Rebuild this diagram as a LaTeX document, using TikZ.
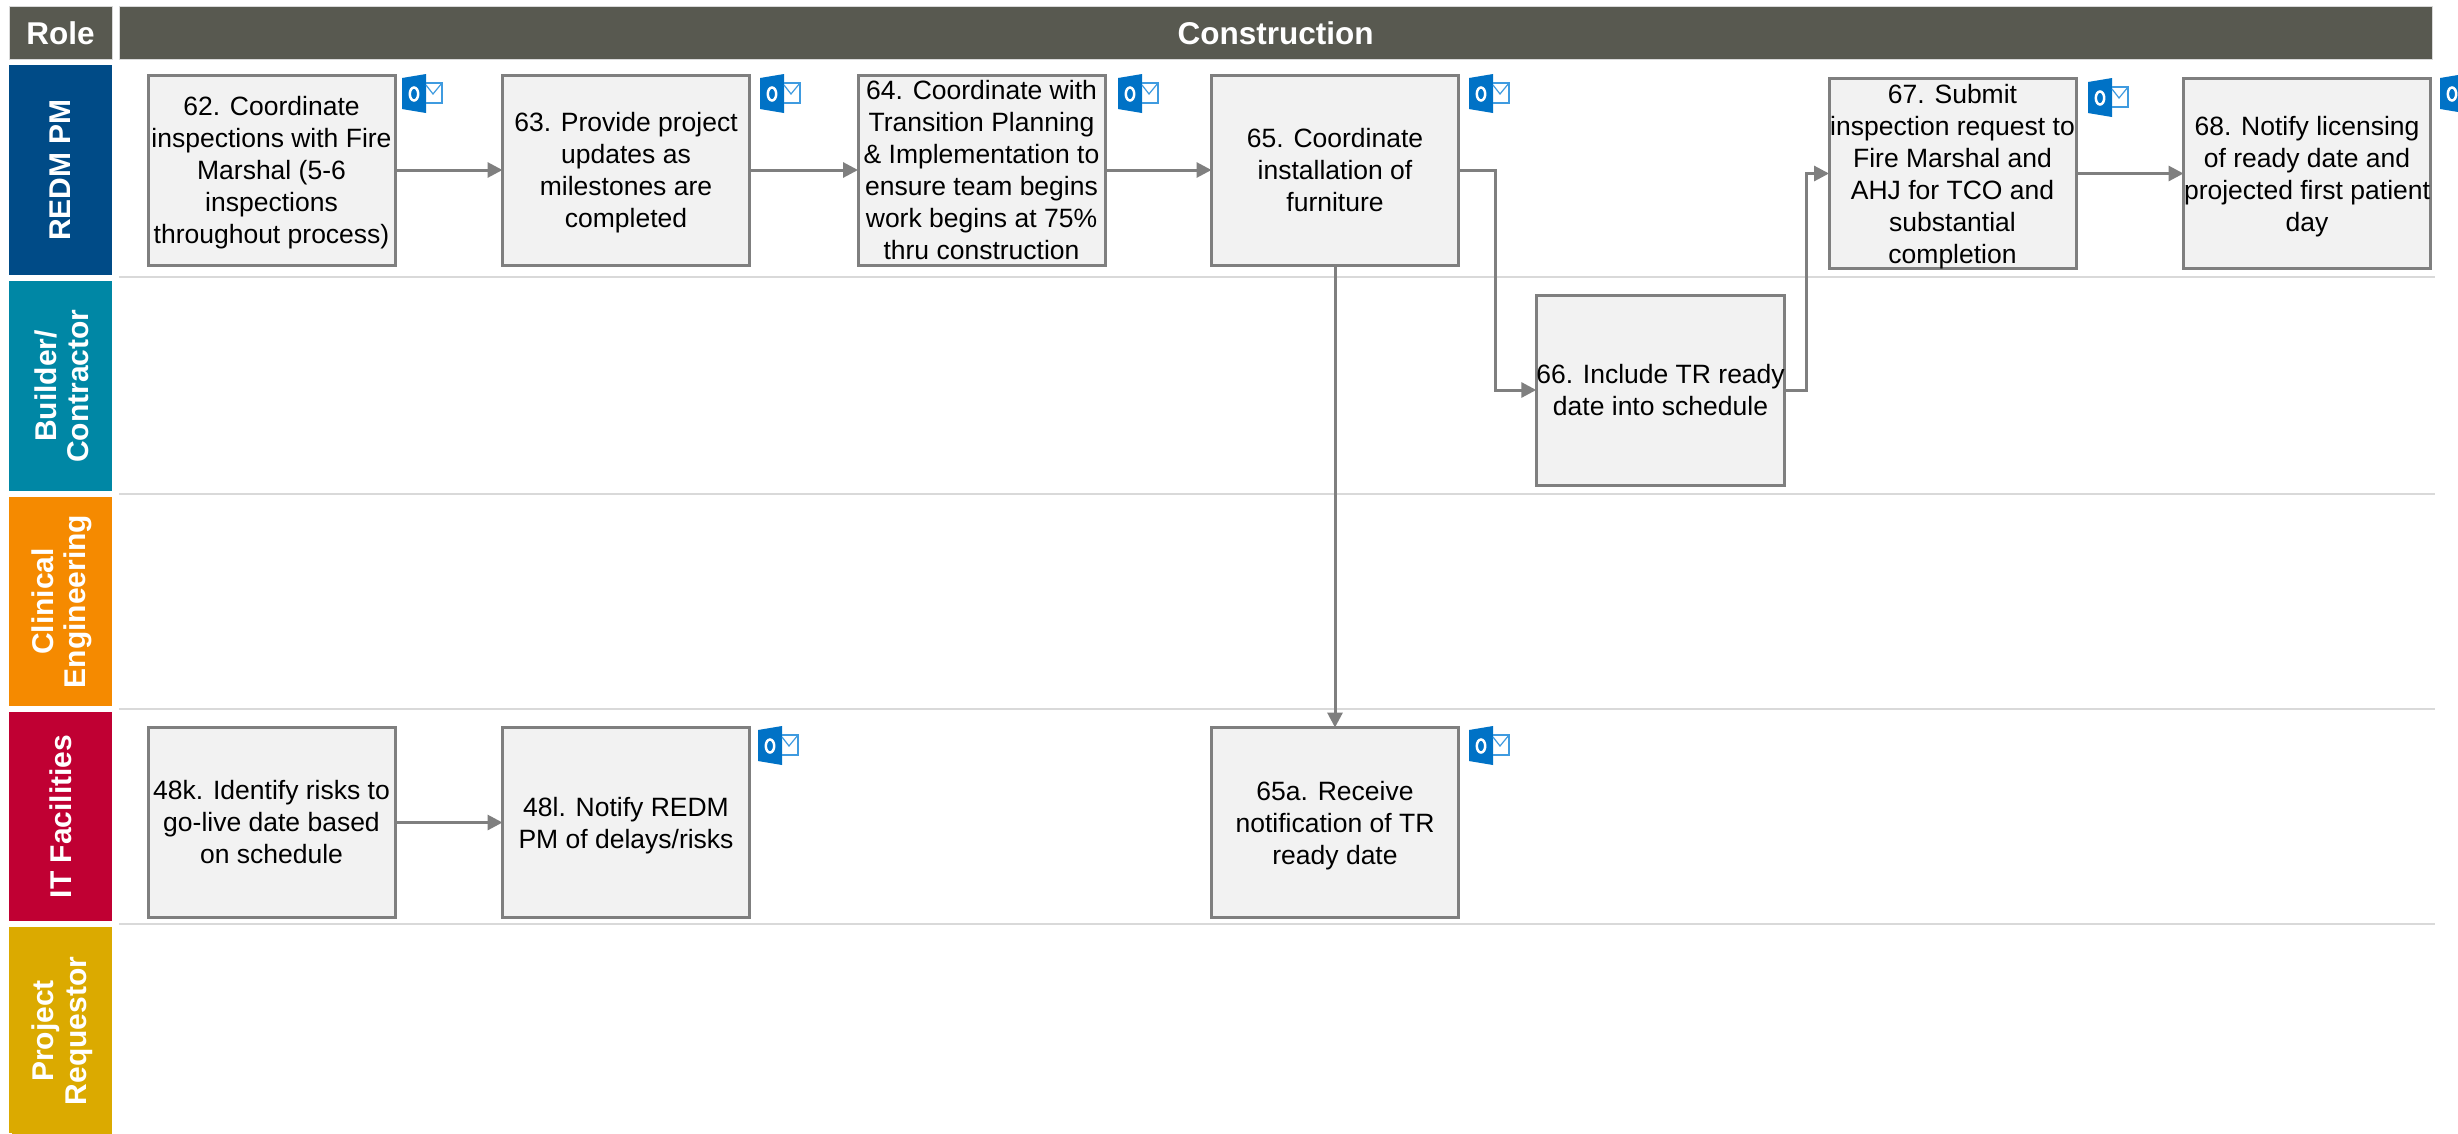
\documentclass[tikz,border=0pt]{standalone}
\usepackage{fontspec}
\setmainfont{Liberation Sans}
\usetikzlibrary{arrows.meta}
\definecolor{hdr}{HTML}{585950}
\definecolor{c1}{HTML}{004B87}
\definecolor{c2}{HTML}{0087A5}
\definecolor{c3}{HTML}{F58A00}
\definecolor{c4}{HTML}{C00033}
\definecolor{c5}{HTML}{DBAA00}
\definecolor{edge}{HTML}{7F7F7F}
\definecolor{boxfill}{HTML}{F2F2F2}
\definecolor{lane}{HTML}{D9D9D9}
\definecolor{olblue}{HTML}{0072C6}
\definecolor{ollight}{HTML}{3F9BE0}
\newcommand{\nodepth}[1]{\raisebox{0pt}[\height][0pt]{#1}}
\tikzset{
  x=1pt,y=-1pt,
  hdrbox/.style={draw=lane,line width=1pt,fill=hdr,text=white,font=\fontsize{31.5}{32}\selectfont\bfseries,inner sep=0pt,outer sep=0pt},
  rolebox/.style={fill=#1,text=white,rotate=90,minimum height=103pt,inner sep=0pt,outer sep=0pt,align=center,font=\fontsize{30}{32.5}\selectfont\bfseries},
  stepbox/.style={draw=edge,line width=3pt,fill=boxfill,minimum width=247pt,minimum height=190pt,inner sep=0pt,outer sep=0pt,align=center,font=\fontsize{26.5}{32}\selectfont},
  flow/.style={draw=edge,line width=3pt,-{Triangle[length=15pt,width=15pt]}},
  laneline/.style={draw=lane,line width=2.5pt},
  outlook/.pic={
    \fill[olblue] (0,4) -- (24,0) -- (24,39) -- (0,35) -- cycle;
    \draw[ollight,line width=1.5pt] (24,9) -- (40,9) -- (40,29) -- (24,29);
    \draw[ollight,line width=1.2pt] (24,11) -- (31,20) -- (40,9);
    \draw[white,line width=2.5pt] (12,20) ellipse (4.2 and 6.5);
  }
}
\begin{document}
\begin{tikzpicture}
\clip (0,0) rectangle (2458,1133);
\fill[white] (0,0) rectangle (2458,1133);
% header
\node[hdrbox,minimum width=103pt,minimum height=53pt] (role) at (60.5,33) {Role};
\node[hdrbox,minimum width=2313pt,minimum height=53pt] (phase) at (1275.5,33) {Construction};
% roles
\fill[c2] (9,281) rectangle (112,491);
\fill[c3] (9,497) rectangle (112,706);
\fill[c5] (9,927) rectangle (112,1133);
\node[rolebox=c1,minimum width=210pt] (r1) at (60.5,170) {REDM PM};
\node[rolebox=c2,minimum width=210pt,minimum height=100pt] (r2) at (62,386) {Builder/\\Contractor};
\node[rolebox=c3,minimum width=209pt,minimum height=100pt] (r3) at (62,601.5) {Clinical\\Engineering};
\node[rolebox=c4,minimum width=209pt] (r4) at (60.5,816.5) {IT Facilities};
\node[rolebox=c5,minimum width=206pt,minimum height=100pt] (r5) at (62,1031) {Project\\Requestor};
% lanes
\coordinate (l1a) at (119,277); \coordinate (l1b) at (2435,277);
\coordinate (l2a) at (119,494); \coordinate (l2b) at (2435,494);
\coordinate (l3a) at (119,709); \coordinate (l3b) at (2435,709);
\coordinate (l4a) at (119,924); \coordinate (l4b) at (2435,924);
\draw[laneline] (l1a) -- (l1b);
\draw[laneline] (l2a) -- (l2b);
\draw[laneline] (l3a) -- (l3b);
\draw[laneline] (l4a) -- (l4b);
% steps
\node[stepbox] (n62) at (271.5,170) {62. Coordinate\\inspections with Fire\\Marshal (5-6\\inspections\\\nodepth{throughout process)}};
\node[stepbox] (n63) at (626,170) {63. Provide project\\updates as\\milestones are\\\nodepth{completed}};
\node[stepbox] (n64) at (981.5,170) {64. Coordinate with\\Transition Planning\\\& Implementation to\\ensure team begins\\work begins at 75\%\\thru construction};
\node[stepbox] (n65) at (1335,170) {65. Coordinate\\installation of\\furniture};
\node[stepbox] (n66) at (1660.5,390) {66. Include TR ready\\date into schedule};
\node[stepbox] (n67) at (1952.5,173.5) {67. Submit\\inspection request to\\Fire Marshal and\\AHJ for TCO and\\substantial\\\nodepth{completion}};
\node[stepbox] (n68) at (2307,173.5) {68. Notify licensing\\of ready date and\\projected first patient\\\nodepth{day}};
\node[stepbox] (n48k) at (271.5,822.5) {48k. Identify risks to\\go-live date based\\on schedule};
\node[stepbox] (n48l) at (626,822.5) {48l. Notify REDM\\\nodepth{PM of delays/risks}};
\node[stepbox] (n65a) at (1335,822.5) {65a. Receive\\notification of TR\\\nodepth{ready date}};
% connectors
\draw[flow] (n62.east) -- (n63.west);
\draw[flow] (n63.east) -- (n64.west);
\draw[flow] (n64.east) -- (n65.west);
\draw[flow] (n65.east) -- ++(37,0) |- (n66.west);
\draw[flow] (n66.east) -- ++(22,0) |- (n67.west);
\draw[flow] (n67.east) -- (n68.west);
\draw[flow] (n65.south) -- (n65a.north);
\draw[flow] (n48k.east) -- (n48l.west);
% mail icons
\pic at (402,74) {outlook};
\pic at (760,74) {outlook};
\pic at (1118,74) {outlook};
\pic at (1469,74) {outlook};
\pic at (2088,78) {outlook};
\pic at (2440,74) {outlook};
\pic at (758,726) {outlook};
\pic at (1469,726) {outlook};
\end{tikzpicture}
\end{document}
